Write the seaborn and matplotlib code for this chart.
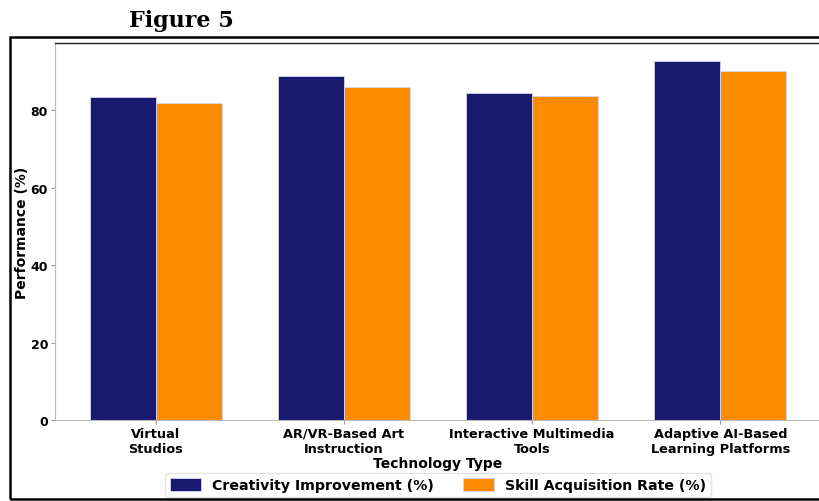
import matplotlib
matplotlib.use("Agg")
import matplotlib.pyplot as plt
import seaborn as sns
import pandas as pd
from matplotlib.patches import Rectangle

# values
technologies = ["Virtual Studios", "AR/VR-Based Art Instruction",
                "Interactive Multimedia Tools", "Adaptive AI-Based Learning Platforms"]
tick_labels = ["Virtual\nStudios", "AR/VR-Based Art\nInstruction",
               "Interactive Multimedia\nTools", "Adaptive AI-Based\nLearning Platforms"]
creativity = [83.4, 88.7, 84.3, 92.6]
skill = [81.8, 85.9, 83.6, 90.2]
series_names = ["Creativity Improvement (%)", "Skill Acquisition Rate (%)"]
colors = ["#191970", "#FF8C00"]

df = pd.DataFrame({
    "Technology Type": technologies * 2,
    "Performance (%)": creativity + skill,
    "Metric": [series_names[0]] * 4 + [series_names[1]] * 4,
})

sns.set_style("white", {"text.color": "black", "axes.labelcolor": "black",
                        "xtick.color": "black", "ytick.color": "black"})
plt.rcParams["font.family"] = ["DejaVu Sans"]

fig = plt.figure(figsize=(8.19, 5.02), dpi=100)
ax = fig.add_axes([55 / 819, 81 / 502, 766 / 819, 377 / 502])

sns.barplot(data=df, x="Technology Type", y="Performance (%)", hue="Metric",
            palette=colors, saturation=1, width=0.7, edgecolor="#d6d6ee",
            linewidth=0.6, ax=ax)

ax.set_xlim(-0.535, 3.535)
ax.set_ylim(0, 97.3)
ax.set_yticks([0, 20, 40, 60, 80])
ax.set_xticks(range(4))
ax.set_xticklabels(tick_labels, fontsize=9.3, fontweight="bold", color="black")
for lab in ax.get_yticklabels():
    lab.set_fontweight("bold")
    lab.set_fontsize(9)
    lab.set_color("black")
ax.tick_params(axis="both", which="both", length=3, width=0.8, color="#999999",
               bottom=True, left=True, pad=2)
ax.set_xlabel("Technology Type", fontsize=10, fontweight="bold", labelpad=1,
              color="black")
ax.set_ylabel("Performance (%)", fontsize=10, fontweight="bold", labelpad=1,
              color="black")

for side in ["left", "bottom", "right"]:
    ax.spines[side].set_color("#bbbbbb")
    ax.spines[side].set_linewidth(0.8)
ax.spines["top"].set_color("#222222")
ax.spines["top"].set_linewidth(1.0)

leg = ax.legend(loc="upper center", bbox_to_anchor=(0.5, -0.122), ncol=2,
                prop={"weight": "bold", "size": 10.2}, frameon=True,
                edgecolor="#dddddd", handlelength=2.2, handleheight=1.0,
                columnspacing=2.0, borderpad=0.35)
for t in leg.get_texts():
    t.set_color("black")

# document frame around the chart
fig.patches.append(Rectangle((10 / 819, 2 / 502), 830 / 819, 462 / 502,
                             transform=fig.transFigure, fill=False,
                             edgecolor="black", linewidth=1.8, zorder=0))
fig.text(181 / 819, 1 - 21 / 502, "Figure 5", ha="center", va="center",
         fontsize=16, fontweight="bold", family=["DejaVu Serif"], color="black")

fig.savefig("out.png", dpi=100)
